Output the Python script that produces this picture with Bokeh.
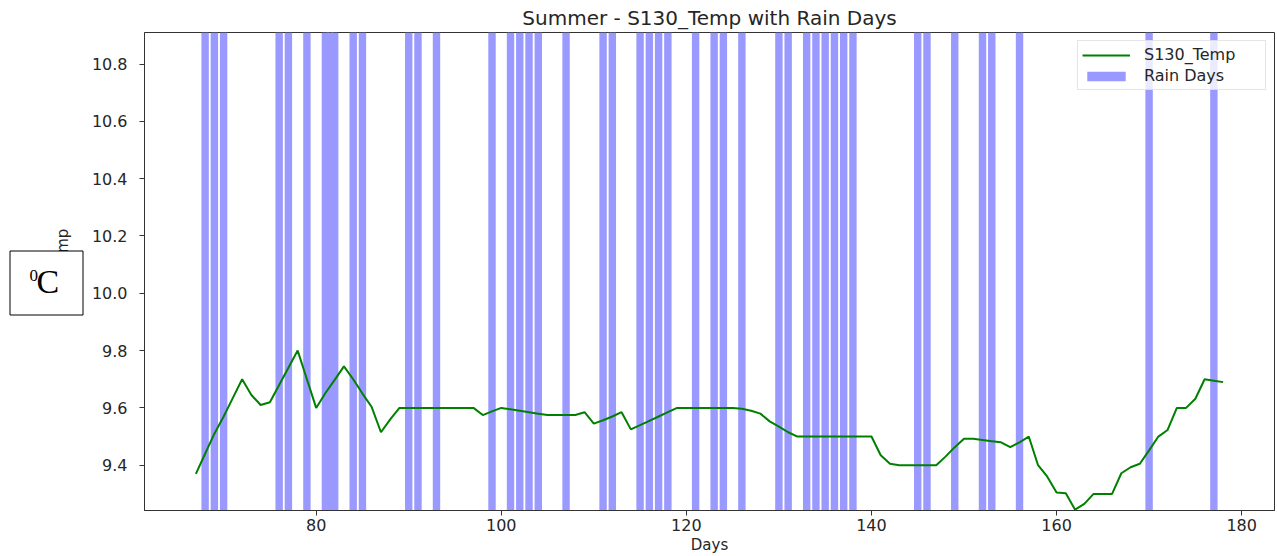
from bokeh.plotting import figure
from bokeh.models import (Range1d, FixedTicker, PrintfTickFormatter, Legend,
                          LegendItem, GridBox)
from bokeh.core.properties import value
from bokeh.embed import file_html
from bokeh.resources import INLINE

# ---------------- data ----------------
title_text = "Summer - S130_Temp with Rain Days"
x_label = "Days"
y_label = "S130_Temp"
series_name = "S130_Temp"
rain_name = "Rain Days"

days = list(range(67, 179))
s130_temp = [
    9.37, 9.44, 9.51, 9.57, 9.635, 9.70, 9.645, 9.61, 9.62, 9.68,     # 67-76
    9.74, 9.80, 9.70, 9.60, 9.652, 9.698, 9.745, 9.70, 9.65, 9.603,   # 77-86
    9.515, 9.56, 9.60, 9.60, 9.60, 9.60, 9.60, 9.60, 9.60, 9.60,      # 87-96
    9.60, 9.575, 9.588, 9.60, 9.595, 9.59, 9.585, 9.58, 9.575, 9.575, # 97-106
    9.575, 9.575, 9.585, 9.545, 9.557, 9.57, 9.585, 9.525, 9.54, 9.555, # 107-116
    9.57, 9.585, 9.60, 9.60, 9.60, 9.60, 9.60, 9.60, 9.60, 9.597,     # 117-126
    9.59, 9.58, 9.553, 9.535, 9.515, 9.50, 9.50, 9.50, 9.50, 9.50,    # 127-136
    9.50, 9.50, 9.50, 9.50, 9.435, 9.405, 9.40, 9.40, 9.40, 9.40,     # 137-146
    9.40, 9.43, 9.463, 9.492, 9.492, 9.488, 9.484, 9.48, 9.463, 9.48, # 147-156
    9.50, 9.40, 9.36, 9.305, 9.302, 9.245, 9.265, 9.30, 9.30, 9.30,   # 157-166
    9.372, 9.393, 9.405, 9.452, 9.50, 9.523, 9.60, 9.60, 9.632, 9.70, # 167-176
    9.695, 9.69,                                                      # 177-178
]
rain_days = [68, 69, 70, 76, 77, 79, 81, 81.5, 82, 84, 85, 90, 91, 93, 99,
             101, 102, 103, 104, 107, 111, 112, 115, 116, 117, 118, 121,
             123, 124, 126, 130, 131, 133, 134, 135, 136, 137, 138, 145,
             146, 149, 152, 153, 156, 170, 177]
x_ticks = [80, 100, 120, 140, 160, 180]
y_ticks = [9.4, 9.6, 9.8, 10.0, 10.2, 10.4, 10.6, 10.8]
unit_sup = "0"
unit_main = "C"

# ---------------- main figure ----------------
X_LO, X_HI = 61.45, 183.55
Y_LO, Y_HI = 9.242, 10.91
FONT = "DejaVu Sans"
SERIF = "Liberation Serif"
DARK = "#262626"
W, H = 1277, 556
BL, BR, BT, BB = 144, 3, 32, 46

p = figure(width=W, height=H, output_backend="svg", toolbar_location=None,
           x_range=Range1d(X_LO, X_HI), y_range=Range1d(Y_LO, Y_HI),
           title=title_text,
           min_border_left=BL, min_border_right=BR,
           min_border_top=BT, min_border_bottom=BB)

p.background_fill_color = "white"
p.border_fill_color = "white"
p.outline_line_color = "#333333"
p.outline_line_width = 1
p.grid.visible = False

p.title.text_font = FONT
p.title.text_font_size = "20px"
p.title.text_font_style = "normal"
p.title.text_color = DARK
p.title.align = "center"
p.title.standoff = 5

bars = p.vbar(x=rain_days, width=0.8, bottom=Y_LO, top=Y_HI,
              fill_color="#9999ff", fill_alpha=1.0, line_color=None)
line = p.line(days, s130_temp, line_color="#008000", line_width=2)

for ax in (p.xaxis[0], p.yaxis[0]):
    ax.axis_line_color = "#333333"
    ax.major_tick_line_color = "#333333"
    ax.major_tick_in = 0
    ax.major_tick_out = 5
    ax.minor_tick_line_color = None
    ax.major_label_text_font = FONT
    ax.major_label_text_font_size = "16px"
    ax.major_label_text_color = DARK
    ax.axis_label_text_font = FONT
    ax.axis_label_text_font_style = "normal"
    ax.axis_label_text_color = DARK

p.xaxis[0].ticker = FixedTicker(ticks=x_ticks)
p.xaxis[0].major_label_standoff = 3
p.xaxis[0].axis_label = x_label
p.xaxis[0].axis_label_text_font_size = "15px"
p.xaxis[0].axis_label_standoff = 2

p.yaxis[0].ticker = FixedTicker(ticks=y_ticks)
p.yaxis[0].formatter = PrintfTickFormatter(format="%.1f")
p.yaxis[0].major_label_standoff = 12
p.yaxis[0].axis_label = y_label
p.yaxis[0].axis_label_text_font_size = "15px"
p.yaxis[0].axis_label_standoff = 17

legend = Legend(items=[LegendItem(label=series_name, renderers=[line]),
                       LegendItem(label=rain_name, renderers=[bars])],
                location="top_right", margin=8, padding=4, spacing=2,
                label_height=19, glyph_height=12, glyph_width=48,
                label_standoff=14, label_width=117,
                label_text_font=FONT, label_text_font_size="16px",
                label_text_color=DARK,
                border_line_color="#cccccc", border_line_width=1,
                background_fill_color="white", background_fill_alpha=0.8)
p.add_layout(legend)

# ---------------- transparent overlay with the unit box ----------------
ov = figure(width=W, height=H, output_backend="svg", toolbar_location=None,
            x_range=Range1d(0, W), y_range=Range1d(H, 0),
            x_axis_type=None, y_axis_type=None, min_border=0)
ov.background_fill_color = None
ov.border_fill_color = None
ov.outline_line_color = None
ov.grid.visible = False
for fig in (p, ov):
    if "frame_align" in fig.properties():
        fig.frame_align = False

ov.quad(left=[9.5], right=[82.5], top=[250.5], bottom=[314.5],
        fill_color="white", line_color="black", line_width=1)
ov.text(x=[36], y=[281], text=[unit_main], text_font=value(SERIF),
        text_font_size="34px", text_color="black",
        text_align="left", text_baseline="middle")
ov.text(x=[29], y=[275], text=[unit_sup], text_font=value(SERIF),
        text_font_size="17px", text_color="black",
        text_align="left", text_baseline="middle")

layout = GridBox(children=[(p, 0, 0), (ov, 0, 0)], width=W, height=H)

open("out.html", "w").write(file_html(layout, INLINE))
